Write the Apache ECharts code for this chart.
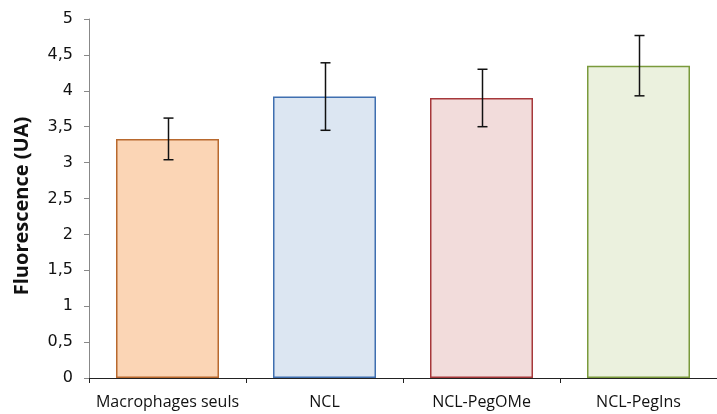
<!DOCTYPE html>
<html><head><meta charset="utf-8">
<script src="https://cdn.jsdelivr.net/npm/echarts@6/dist/echarts.min.js"></script>
<style>html,body{margin:0;padding:0;background:#fff}#c{width:717px;height:414px}</style>
</head><body><div id="c"></div>
<script>
const categories = ['Macrophages seuls', 'NCL', 'NCL-PegOMe', 'NCL-PegIns'];
const values = [3.33, 3.92, 3.90, 4.35];
const errors = [0.29, 0.47, 0.40, 0.42];
const fillColors = ['#FBD5B5', '#DCE6F2', '#F2DCDB', '#EBF1DE'];
const borderColors = ['#B8692E', '#3F6FB0', '#A6383B', '#7A9A3C'];

const chart = echarts.init(document.getElementById('c'), null, {renderer: 'canvas'});
chart.setOption({
  animation: false,
  grid: {left: 89, top: 19, width: 630, height: 359, containLabel: false},
  xAxis: {
    type: 'category', data: categories,
    axisLine: {lineStyle: {color: '#222', width: 1}},
    axisTick: {show: true, alignWithLabel: false, length: 5, lineStyle: {color: '#222'}},
    axisLabel: {color: '#111', fontFamily: 'Open Sans', fontSize: 16, margin: 16, interval: 0}
  },
  yAxis: {
    type: 'value', min: 0, max: 5, interval: 0.5,
    name: 'Fluorescence (UA)', nameLocation: 'middle', nameGap: 57,
    nameTextStyle: {fontFamily: 'Open Sans', fontWeight: 'bold', fontSize: 20, color: '#111', padding: [0, 15, 0, 0]},
    axisLine: {show: true, lineStyle: {color: '#888'}},
    axisTick: {show: true, length: 5, lineStyle: {color: '#888'}},
    splitLine: {show: false},
    axisLabel: {color: '#111', fontFamily: 'DejaVu Sans', fontSize: 16, margin: 16,
      formatter: v => String(v).replace('.', ',')}
  },
  series: [
    {
      type: 'bar', barWidth: 103,
      data: values.map((v, i) => ({value: v, itemStyle: {color: fillColors[i], borderColor: borderColors[i], borderWidth: 1.5}})),
      z: 2
    },
    {
      type: 'custom', z: 3,
      data: values.map((v, i) => [i, v - errors[i], v + errors[i]]),
      renderItem: (params, api) => {
        const lo = api.coord([api.value(0), api.value(1)]);
        const hi = api.coord([api.value(0), api.value(2)]);
        const x = Math.round(lo[0]) + 0.5, cap = 5;
        const style = {stroke: '#111', lineWidth: 1.5, fill: null};
        return {type: 'group', children: [
          {type: 'line', shape: {x1: x, y1: lo[1], x2: x, y2: hi[1]}, style},
          {type: 'line', shape: {x1: x - cap, y1: lo[1], x2: x + cap, y2: lo[1]}, style},
          {type: 'line', shape: {x1: x - cap, y1: hi[1], x2: x + cap, y2: hi[1]}, style}
        ]};
      }
    }
  ]
});
</script></body></html>
